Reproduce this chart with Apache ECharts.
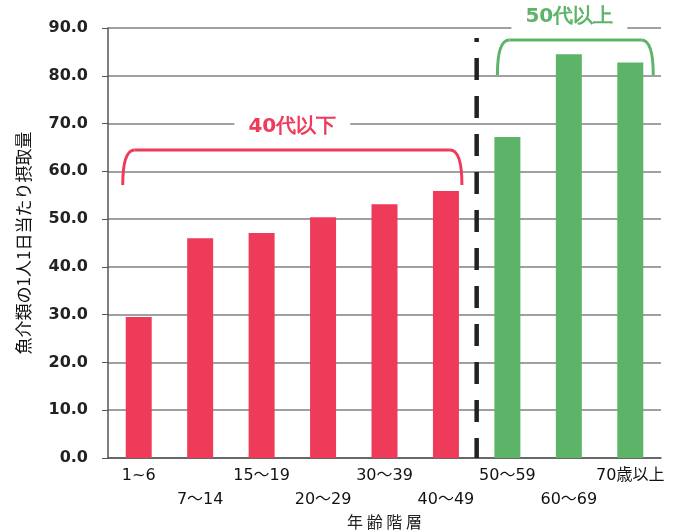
<!DOCTYPE html>
<html><head><meta charset="utf-8">
<script src="https://cdn.jsdelivr.net/npm/echarts@6/dist/echarts.min.js"></script>
<style>html,body{margin:0;padding:0;background:#fff}#c{width:679px;height:532px}</style>
</head><body><div id="c"></div>
<script>
const categories = ['1~6','7～14','15～19','20～29','30～39','40～49','50～59','60～69','70歳以上'];
const values = [29.5, 46.0, 47.1, 50.4, 53.1, 55.9, 67.2, 84.5, 82.8];
const groupUnder = [0,1,2,3,4,5];
const groupOver = [6,7,8];
const yTicks = [0,10,20,30,40,50,60,70,80,90];
const yName = '魚介類の1人1日当たり摂取量';
const xName = '年 齢 階 層';
const labelUnder = '40代以下';
const labelOver = '50代以上';
const RED = '#ef3b5a', GREEN = '#5db469';
const chart = echarts.init(document.getElementById('c'));
const mixed = '"DejaVu Sans", "Noto Sans CJK JP"';
const jp = 'Noto Sans CJK JP';
chart.setOption({
  animation:false,
  grid:{left:108,right:18,top:28,bottom:74,outerBoundsMode:'none',containLabel:false},
  xAxis:{type:'category',data:categories,
    axisLine:{lineStyle:{color:'#555',width:1.5}},axisTick:{show:false},
    axisLabel:{interval:0,fontFamily:mixed,fontSize:16,color:'#111',lineHeight:24,margin:6,
      formatter:(v,i)=> i%2===0 ? v : '\n'+v},
    name:xName,nameLocation:'middle',nameGap:56,nameMoveOverlap:false,
    nameTextStyle:{fontFamily:jp,fontSize:16,color:'#222'}},
  yAxis:{type:'value',min:yTicks[0],max:yTicks[yTicks.length-1],interval:10,
    axisLine:{show:true,lineStyle:{color:'#555',width:1.5}},
    axisTick:{show:true,length:6,lineStyle:{color:'#555'}},
    splitLine:{lineStyle:{color:'#808080',width:1.5}},
    axisLabel:{fontFamily:'DejaVu Sans',fontSize:16,fontWeight:'bold',color:'#222',margin:20,formatter:v=>v.toFixed(1)},
    name:yName,nameLocation:'middle',nameGap:76,nameRotate:90,nameMoveOverlap:false,
    nameTextStyle:{fontFamily:jp,fontSize:17,color:'#111'}},
  series:[{type:'bar',barWidth:26,
    data:values.map((v,i)=>({value:v,itemStyle:{color:groupOver.includes(i)?GREEN:RED}}))}]
});
function px(i,v){return chart.convertToPixel({gridIndex:0},[i,v]);}
const p5=px(5,0), p6=px(6,0), top90=px(0,90)[1], base=px(0,0)[1];
const xd=(p5[0]+p6[0])/2;
const uL=px(groupUnder[0],0)[0]-16, uR=px(groupUnder[groupUnder.length-1],0)[0]+16;
const oL=px(groupOver[0],0)[0]-10, oR=px(groupOver[groupOver.length-1],0)[0]+23;
const uTop=150, uBot=185, oTop=40, oBot=75;
function brace(l,r,t,b,color){
  const st={stroke:color,lineWidth:3,fill:null};
  return [
    {type:'bezierCurve',shape:{x1:l,y1:b,x2:l+12,y2:t,cpx1:l,cpy1:t},style:st,z:10},
    {type:'line',shape:{x1:l+12,y1:t,x2:r-12,y2:t},style:st,z:10},
    {type:'bezierCurve',shape:{x1:r-12,y1:t,x2:r,y2:b,cpx1:r,cpy1:t},style:st,z:10}
  ];
}
chart.setOption({graphic:[
  {type:'line',shape:{x1:xd,y1:top90+10,x2:xd,y2:base},style:{stroke:'#222',lineWidth:4.5,lineDash:[22,16],lineDashOffset:18},z:10},
  ...brace(uL,uR,uTop,uBot,RED),
  ...brace(oL,oR,oTop,oBot,GREEN),
  {type:'text',x:(uL+uR)/2,y:127,style:{text:labelUnder,fill:RED,font:'bold 20px "DejaVu Sans"',align:'center',verticalAlign:'middle',backgroundColor:'#fff',padding:[2,14]},z:10},
  {type:'text',x:(oL+oR)/2-6,y:17,style:{text:labelOver,fill:GREEN,font:'bold 20px "DejaVu Sans"',align:'center',verticalAlign:'middle',backgroundColor:'#fff',padding:[2,14]},z:10}
]});
</script></body></html>
